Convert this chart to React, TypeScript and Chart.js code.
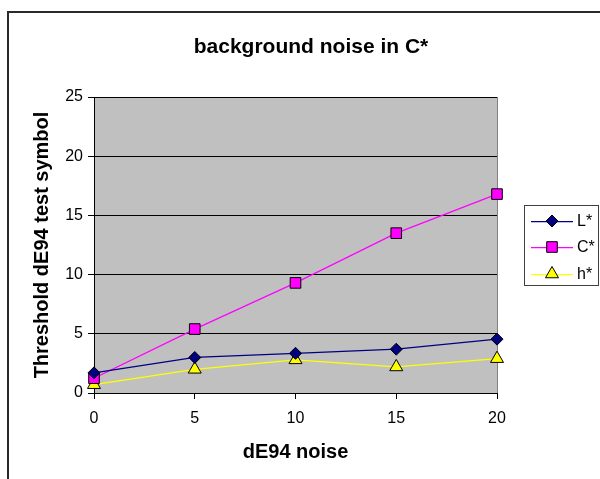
import React, { useEffect, useRef } from "react";
import { Chart, registerables } from "chart.js";

Chart.register(...registerables);

const noiseLevels = [0, 5, 10, 15, 20];
const lStar = [1.7, 3.0, 3.35, 3.7, 4.55];
const cStar = [1.25, 5.4, 9.3, 13.5, 16.8];
const hStar = [0.7, 2.0, 2.8, 2.2, 2.9];
const seriesNames = ["L*", "C*", "h*"];
const seriesColors = ["#000080", "#FF00FF", "#FFFF00"];
const seriesMarkers = ["rectRot", "rect", "triangle"];
const seriesMarkerRadius = [6, 7.5, 7.5];
const titleText = "background noise in C*";
const xTitleText = "dE94 noise";
const yTitleText = "Threshold dE94 test symbol";

const FONT = '"Liberation Sans", Arial, sans-serif';

function drawMarker(ctx: CanvasRenderingContext2D, style: string, x: number, y: number, r: number, fill: string) {
  ctx.beginPath();
  if (style === "rectRot") {
    ctx.moveTo(x, y - r);
    ctx.lineTo(x + r, y);
    ctx.lineTo(x, y + r);
    ctx.lineTo(x - r, y);
    ctx.closePath();
  } else if (style === "rect") {
    const s = r * Math.SQRT1_2;
    ctx.rect(x - s, y - s, 2 * s, 2 * s);
  } else {
    ctx.moveTo(x, y - r);
    ctx.lineTo(x + 0.866 * r, y + 0.5 * r);
    ctx.lineTo(x - 0.866 * r, y + 0.5 * r);
    ctx.closePath();
  }
  ctx.fillStyle = fill;
  ctx.fill();
  ctx.lineWidth = 1;
  ctx.strokeStyle = "#000000";
  ctx.stroke();
}

const decor = {
  id: "decor",
  beforeDraw(chart: any) {
    const { ctx, chartArea: a } = chart;
    ctx.save();
    ctx.fillStyle = "#C0C0C0";
    ctx.fillRect(a.left, a.top, a.right - a.left, a.bottom - a.top);
    ctx.strokeStyle = "#808080";
    ctx.lineWidth = 1;
    ctx.beginPath();
    ctx.moveTo(Math.round(a.right) + 0.5, a.top);
    ctx.lineTo(Math.round(a.right) + 0.5, a.bottom);
    ctx.stroke();
    ctx.restore();
  },
  afterDraw(chart: any) {
    const { ctx, chartArea: a } = chart;
    ctx.save();
    // outer frame
    ctx.strokeStyle = "#2a2a2a";
    ctx.lineWidth = 2;
    ctx.beginPath();
    ctx.moveTo(8, 479);
    ctx.lineTo(8, 12);
    ctx.lineTo(600, 12);
    ctx.stroke();

    // main title
    ctx.fillStyle = "#000000";
    ctx.font = `bold 21px ${FONT}`;
    ctx.textAlign = "center";
    ctx.textBaseline = "alphabetic";
    ctx.fillText(titleText, 311, 53);

    // x title
    ctx.font = `bold 20px ${FONT}`;
    ctx.fillText(xTitleText, (a.left + a.right) / 2, 458);

    // y title
    ctx.save();
    ctx.translate(48, (a.top + a.bottom) / 2);
    ctx.rotate(-Math.PI / 2);
    ctx.fillText(yTitleText, 0, 0);
    ctx.restore();

    // legend
    ctx.strokeStyle = "#404040";
    ctx.lineWidth = 1;
    ctx.strokeRect(524.5, 205.5, 74, 80);
    const rows = [221, 247, 274];
    ctx.font = `16px ${FONT}`;
    ctx.textAlign = "left";
    ctx.textBaseline = "middle";
    seriesNames.forEach((name, i) => {
      const y = rows[i];
      ctx.strokeStyle = seriesColors[i];
      ctx.lineWidth = 1.25;
      ctx.beginPath();
      ctx.moveTo(531, y + 0.5);
      ctx.lineTo(573, y + 0.5);
      ctx.stroke();
      drawMarker(ctx, seriesMarkers[i], 552, y, seriesMarkerRadius[i], seriesColors[i]);
      ctx.fillStyle = "#000000";
      ctx.fillText(name, 577, y + 1);
    });
    ctx.restore();
  },
};

function makeDataset(label: string, values: number[], i: number) {
  return {
    label,
    data: values.map((v, k) => ({ x: noiseLevels[k], y: v })),
    borderColor: seriesColors[i],
    backgroundColor: seriesColors[i],
    borderWidth: 1.25,
    pointStyle: seriesMarkers[i],
    pointRadius: seriesMarkerRadius[i],
    pointBackgroundColor: seriesColors[i],
    pointBorderColor: "#000000",
    pointBorderWidth: 1,
    tension: 0,
    clip: false as any,
  };
}

export default function App() {
  const ref = useRef<HTMLCanvasElement | null>(null);
  useEffect(() => {
    if (!ref.current) return;
    const chart = new Chart(ref.current, {
      type: "line",
      data: {
        datasets: [
          makeDataset(seriesNames[0], lStar, 0),
          makeDataset(seriesNames[1], cStar, 1),
          makeDataset(seriesNames[2], hStar, 2),
        ],
      },
      options: {
        responsive: false,
        animation: false,
        layout: { padding: { left: 0, top: 97, right: 103, bottom: 0 } },
        plugins: {
          legend: { display: false },
          title: { display: false },
          tooltip: { enabled: false },
        },
        scales: {
          x: {
            type: "linear",
            min: 0,
            max: 20,
            afterFit: (s: any) => {
              s.height = 86;
            },
            ticks: {
              stepSize: 5,
              color: "#000000",
              padding: 10,
              font: { family: FONT, size: 16 },
            },
            grid: {
              drawOnChartArea: false,
              drawTicks: true,
              tickLength: 6,
              color: "#000000",
            },
            border: { display: true, color: "#000000", width: 1 },
          },
          y: {
            type: "linear",
            min: 0,
            max: 25,
            afterFit: (s: any) => {
              s.width = 94;
            },
            ticks: {
              stepSize: 5,
              color: "#000000",
              padding: 5,
              font: { family: FONT, size: 16 },
            },
            grid: {
              drawOnChartArea: true,
              drawTicks: true,
              tickLength: 6,
              color: "#000000",
              lineWidth: 1,
            },
            border: { display: true, color: "#000000", width: 1 },
          },
        },
      },
      plugins: [decor],
    });
    return () => chart.destroy();
  }, []);
  return (
    <div style={{ position: "fixed", left: 0, top: 0, width: 600, height: 479, background: "#ffffff" }}>
      <canvas ref={ref} width={600} height={479} style={{ display: "block" }} />
    </div>
  );
}
